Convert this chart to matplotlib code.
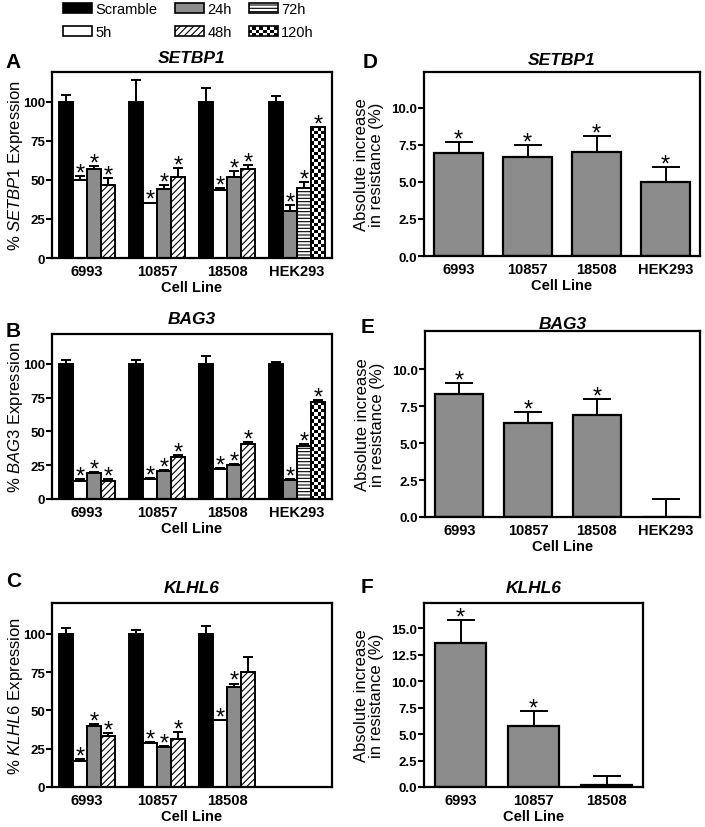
import numpy as np
import matplotlib
matplotlib.use('Agg')
import matplotlib.pyplot as plt
from matplotlib.patches import Rectangle, Patch
from matplotlib.legend_handler import HandlerPatch

plt.rcParams['font.family'] = ['Liberation Sans', 'DejaVu Sans']
plt.rcParams['mathtext.fontset'] = 'custom'
plt.rcParams['mathtext.it'] = 'Liberation Sans:italic'
plt.rcParams['mathtext.rm'] = 'Liberation Sans'
plt.rcParams['hatch.linewidth'] = 0.8

# ---- data ----
cell_lines = ['6993', '10857', '18508', 'HEK293']
conditions = ['Scramble', '5h', '24h', '48h', '72h', '120h']
group_conds = [['Scramble', '5h', '24h', '48h']] * 3 + [['Scramble', '24h', '72h', '120h']]

setbp1_mean = [[100, 50, 57, 47], [100, 35, 44, 52], [100, 43.5, 52, 57], [100, 30, 45, 83.5]]
setbp1_err = [[4.3, 2.5, 2, 4], [14, 0.5, 2.5, 5.5], [8.5, 1, 3.5, 2.5], [3.8, 4, 3.5, 0.5]]
setbp1_sig = [[0, 1, 1, 1], [0, 1, 1, 1], [0, 1, 1, 1], [0, 1, 1, 1]]

bag3_mean = [[100, 13, 19, 13.5], [100, 14.5, 20.5, 31], [100, 22.5, 25.5, 41], [100, 14, 39.5, 71.5]]
bag3_err = [[3, 1.5, 1.2, 1], [2.5, 1, 0.8, 1.5], [6, 0.5, 0.7, 1.2], [1.5, 0.5, 1, 2]]
bag3_sig = [[0, 1, 1, 1], [0, 1, 1, 1], [0, 1, 1, 1], [0, 1, 1, 1]]

klhl6_mean = [[100, 17, 40, 33], [100, 28.5, 26, 31], [100, 43.5, 65, 75]]
klhl6_err = [[3.5, 1, 1, 2.5], [2.5, 1, 0.5, 5], [5, 0.3, 2.5, 9.5]]
klhl6_sig = [[0, 1, 1, 1], [0, 1, 1, 1], [0, 1, 1, 0]]

setbp1_res = [6.93, 6.7, 7.0, 4.97]
setbp1_res_err = [0.75, 0.75, 1.1, 1.05]
setbp1_res_sig = [1, 1, 1, 1]
bag3_res = [8.31, 6.36, 6.9, 0.0]
bag3_res_err = [0.75, 0.72, 1.1, 1.24]
bag3_res_sig = [1, 1, 1, 0]
klhl6_res = [13.58, 5.79, 0.22]
klhl6_res_err = [2.2, 1.35, 0.82]
klhl6_res_sig = [1, 1, 0]

styles = {'Scramble': ('black', None), '5h': ('white', None), '24h': ('#8c8c8c', None),
          '48h': ('white', '/////'), '72h': ('white', '-----'), '120h': ('white', 'checker')}

W, H = 705, 828
fig = plt.figure(figsize=(W / 100, H / 100), dpi=100)


def px_axes(left, right, top, bottom):
    return fig.add_axes([left / W, 1 - bottom / H, (right - left) / W, (bottom - top) / H])


def style_axes(ax, ylim, yticks, fmt):
    ax.set_ylim(*ylim)
    ax.set_yticks(yticks)
    ax.set_yticklabels([fmt.format(t) for t in yticks], fontweight='bold', fontsize=9.5)
    for s in ax.spines.values():
        s.set_linewidth(1.6)
    ax.tick_params(axis='y', length=4, width=1.5, pad=1)
    ax.tick_params(axis='x', length=0, pad=4)
    ax.set_xlabel('Cell Line', fontweight='bold', fontsize=10.5, labelpad=1.5)


def star(ax, x, y):
    ax.annotate('*', (x, y), xytext=(0, -2.5), textcoords='offset points',
                ha='center', va='baseline', fontsize=17)


def checker(ax, bar):
    x0, w, h = bar.get_x(), bar.get_width(), bar.get_height()
    p = ax.transData.transform([(x0, 0), (x0 + w, h)])
    ncol = 4
    nrow = max(1, int(round((p[1, 1] - p[0, 1]) / ((p[1, 0] - p[0, 0]) / ncol))))
    arr = np.add.outer(np.arange(nrow), np.arange(ncol)) % 2
    im = ax.imshow(arr, cmap='gray', extent=[x0, x0 + w, 0, h], aspect='auto',
                   interpolation='nearest', origin='lower', zorder=2.1)
    im.set_clip_path(bar)
    ax.bar(x0 + w / 2, h, w, fill=False, edgecolor='black', linewidth=1.4, zorder=2.2)


def expression_panel(ax, means, errs, sigs, ytop, gene, title_pad):
    ax.set_xlim(-0.5, 3.5)
    style_axes(ax, (0, ytop), [0, 25, 50, 75, 100], '{:g}')
    bw = 0.2
    for g in range(len(means)):
        for k, cond in enumerate(group_conds[g]):
            x = g - 0.3 + k * bw
            m, e = means[g][k], errs[g][k]
            fc, hatch = styles[cond]
            b = ax.bar(x, m, bw, color=fc, edgecolor='black', linewidth=1.4,
                       hatch=hatch if hatch != 'checker' else None, zorder=2)[0]
            if hatch == 'checker':
                checker(ax, b)
            ax.errorbar(x, m, yerr=[[0], [e]], fmt='none', ecolor='black',
                        elinewidth=1.4, capsize=3.5, capthick=1.4, zorder=3)
            if sigs[g][k]:
                star(ax, x, m + e)
    ax.set_xticks(range(len(means)))
    ax.set_xticklabels(cell_lines[:len(means)], fontweight='bold', fontsize=10.5)
    ax.set_ylabel('% $\\mathit{' + gene + '}$ Expression', fontsize=12)
    ax.yaxis.set_label_coords(-27 / 280, 0.5)
    ax.set_title(gene, fontweight='bold', style='italic', fontsize=12.5, pad=title_pad)


def resistance_panel(ax, vals, errs, sigs, ytop, yticks, gene, title_pad, xmax):
    ax.set_xlim(-0.5, xmax)
    style_axes(ax, (0, ytop), yticks, '{:.1f}')
    x = np.arange(len(vals))
    ax.bar(x, vals, 0.7, color='#8c8c8c', edgecolor='black', linewidth=1.6, zorder=2)
    ax.errorbar(x, vals, yerr=[np.zeros(len(vals)), errs], fmt='none', ecolor='black',
                elinewidth=1.4, capsize=10, capthick=1.4, zorder=3)
    for i in range(len(vals)):
        if sigs[i]:
            star(ax, x[i], vals[i] + errs[i])
    ax.set_xticks(x)
    ax.set_xticklabels(cell_lines[:len(vals)], fontweight='bold', fontsize=10.5)
    ax.set_ylabel('Absolute increase\nin resistance (%)', fontsize=12, linespacing=1.0)
    ax.yaxis.set_label_coords(-40 / (ax.get_position().width * W), 0.5)
    ax.set_title(gene, fontweight='bold', style='italic', fontsize=12.5, pad=title_pad)


axA = px_axes(52, 332, 73, 259)
axB = px_axes(52, 332, 335, 500)
axC = px_axes(52, 332, 604, 788)
axD = px_axes(424, 700, 73, 257)
axE = px_axes(425, 700, 332, 518)
axF = px_axes(424, 643, 604, 788)

expression_panel(axA, setbp1_mean, setbp1_err, setbp1_sig, 119, 'SETBP1', 7)
expression_panel(axB, bag3_mean, bag3_err, bag3_sig, 122, 'BAG3', 8)
expression_panel(axC, klhl6_mean, klhl6_err, klhl6_sig, 120, 'KLHL6', 8)

res_ticks = [0, 2.5, 5, 7.5, 10]
resistance_panel(axD, setbp1_res, setbp1_res_err, setbp1_res_sig, 12.4, res_ticks, 'SETBP1', 6, 3.5)
resistance_panel(axE, bag3_res, bag3_res_err, bag3_res_sig, 12.6, res_ticks, 'BAG3', 2, 3.5)
resistance_panel(axF, klhl6_res, klhl6_res_err, klhl6_res_sig, 17.4,
                 [0, 2.5, 5, 7.5, 10, 12.5, 15], 'KLHL6', 8, 2.5)

# panel letters
for letter, x, y in [('A', 5, 68), ('B', 6, 337), ('C', 6, 587),
                     ('D', 363, 68), ('E', 361, 333), ('F', 361, 593)]:
    fig.text(x / W, 1 - y / H, letter, fontsize=15, fontweight='bold', va='baseline')


# legend
class CheckerHandler(HandlerPatch):
    def create_artists(self, legend, orig_handle, xdescent, ydescent, width, height, fontsize, trans):
        arts = [Rectangle((-xdescent, -ydescent), width, height, facecolor='white',
                          edgecolor='none', transform=trans)]
        nc, nr = 8, 3
        sw, sh = width / nc, height / nr
        for i in range(nr):
            for j in range(nc):
                if (i + j) % 2:
                    arts.append(Rectangle((-xdescent + j * sw, -ydescent + i * sh), sw, sh,
                                          facecolor='black', edgecolor='none', transform=trans))
        arts.append(Rectangle((-xdescent, -ydescent), width, height, fill=False,
                              edgecolor='black', linewidth=1.2, transform=trans))
        return arts


handles = []
for cond in conditions:
    fc, hatch = styles[cond]
    handles.append(Patch(facecolor=fc, edgecolor='black', linewidth=1.2,
                         hatch=hatch if hatch != 'checker' else None))
fig.legend(handles, conditions, loc='upper left', bbox_to_anchor=(63 / W, 1 - 3 / H),
           ncol=3, fontsize=10.5, frameon=False, borderpad=0, borderaxespad=0,
           handlelength=2.0, handleheight=0.7, handletextpad=0.25, columnspacing=1.15,
           labelspacing=0.65, handler_map={handles[5]: CheckerHandler()})

fig.savefig('out.png', dpi=100)
